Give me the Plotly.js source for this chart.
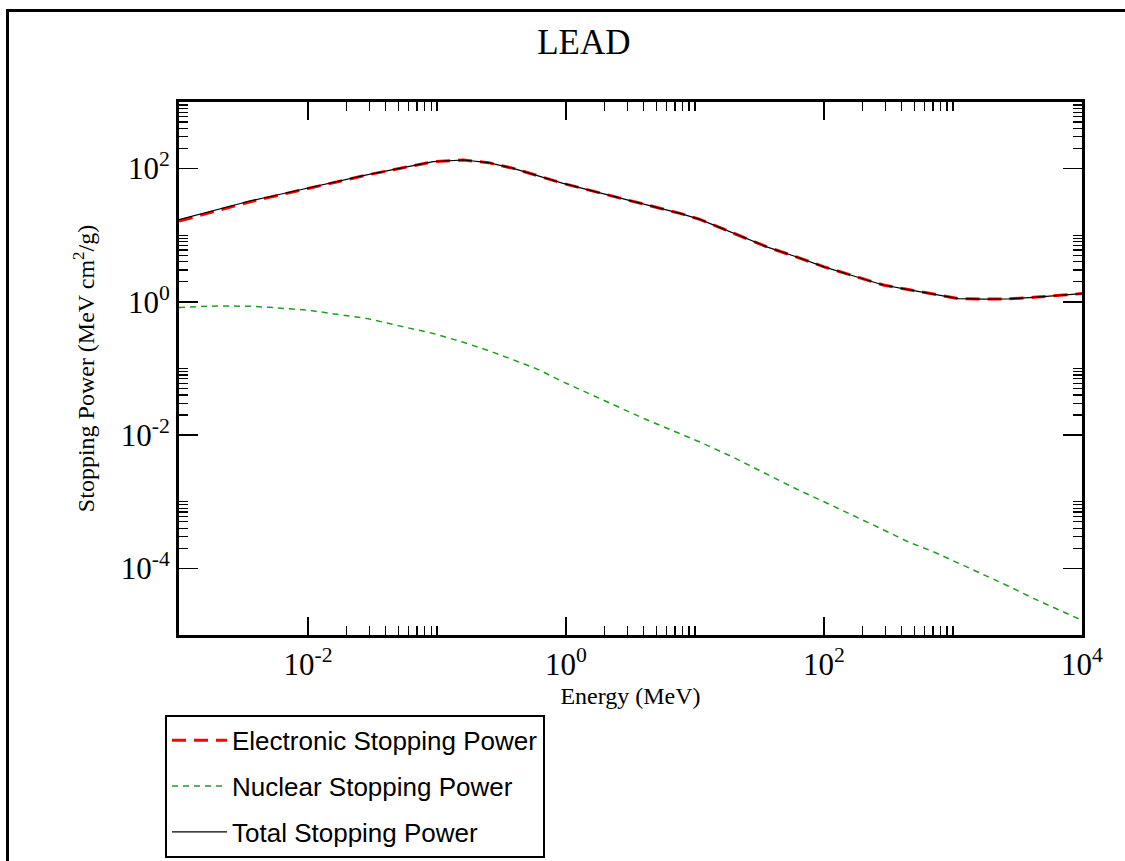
<!DOCTYPE html>
<html>
<head>
<meta charset="utf-8">
<script src="https://cdn.plot.ly/plotly-3.0.1.min.js"></script>
<style>
  html, body { margin: 0; padding: 0; background: #fff; overflow: hidden; }
  #wrap { position: relative; width: 1125px; height: 861px; overflow: hidden; }
  #chart { width: 1125px; height: 861px; }
  #frame { position: absolute; left: 6px; top: 9px; width: 1300px; height: 1100px;
           border-left: 3px solid #000; border-top: 3px solid #000; pointer-events: none; }
</style>
</head>
<body>
<div id="wrap">
  <div id="chart"></div>
  <div id="frame"></div>
</div>
<script>
// Energy grid (MeV)
const energy = [0.001, 0.002, 0.00355, 0.005, 0.01, 0.02, 0.0285, 0.05, 0.0935, 0.16, 0.25, 0.39, 0.6, 0.95,
                2, 4, 7.65, 10.9, 20, 36, 60, 100, 170, 288, 450, 703, 1100, 1720, 2700, 4200, 6500, 10000];
// Electronic stopping power (MeV cm2/g)
const electronic = [16.3, 23.5, 31.8, 37.0, 50.6, 68.5, 80.0, 99.8, 127, 134.6, 123, 101, 78, 60,
                    41.3, 29.5, 21.3, 17.3, 10.7, 6.7, 4.79, 3.36, 2.45, 1.79, 1.53, 1.31, 1.12, 1.10, 1.11, 1.17, 1.24, 1.33];
// Nuclear stopping power (MeV cm2/g)
const nuclear = [0.826, 0.87, 0.86, 0.83, 0.75, 0.62, 0.565, 0.44, 0.336, 0.247, 0.186, 0.135, 0.098, 0.063,
                 0.033, 0.0178, 0.0105, 0.0079, 0.0046, 0.0026, 0.00158, 0.0010, 0.00062, 0.00038, 0.00025, 0.000178,
                 0.00012, 0.000081, 0.000054, 0.0000355, 0.0000245, 0.0000166];
// Total stopping power (MeV cm2/g)
const total = [17.1, 24.4, 32.7, 37.8, 51.4, 69.1, 80.6, 100.2, 127.3, 134.8, 123.2, 101.1, 78.1, 60.06,
               41.33, 29.52, 21.31, 17.31, 10.70, 6.70, 4.79, 3.36, 2.45, 1.79, 1.53, 1.31, 1.12, 1.10, 1.11, 1.17, 1.24, 1.33];

const legendNames = ["Electronic Stopping Power", "Nuclear Stopping Power", "Total Stopping Power"];

// Tick labels
const xMajor = [0.01, 1, 100, 10000];
const xMajorText = ["10<sup>-2</sup>", "10<sup>0</sup>", "10<sup>2</sup>", "10<sup>4</sup>"];
const yMajor = [0.0001, 0.01, 1, 100];
const yMajorText = ["10<sup>-4</sup>", "10<sup>-2</sup>", "10<sup>0</sup>", "10<sup>2</sup>"];
const xMajorAll = [0.0001, 0.01, 1, 100];
const yMajorAll = [0.000001, 0.0001, 0.01, 1, 100];

function minorTicks(majors) {
  const out = [];
  majors.forEach(m => { for (let k = 2; k <= 10; k++) out.push(m * k); });
  return out;
}

const serif = "Liberation Serif, Times New Roman, serif";
const sans = "Liberation Sans, Arial, Helvetica, sans-serif";

const traces = [
  { x: energy, y: electronic, name: legendNames[0], type: "scatter", mode: "lines", legendgroup: "a",
    line: { color: "#ff0000", width: 3, dash: "14px,8px" } },
  { x: energy, y: nuclear, name: legendNames[1], type: "scatter", mode: "lines", legendgroup: "b",
    line: { color: "#1f9f1f", width: 1.5, dash: "6px,5px" } },
  { x: energy, y: total, name: legendNames[2], type: "scatter", mode: "lines", legendgroup: "c",
    line: { color: "#000000", width: 1.2 } }
];

const axisCommon = {
  type: "log",
  showgrid: false,
  zeroline: false,
  showline: true,
  linecolor: "#000",
  linewidth: 3,
  mirror: "allticks",
  ticks: "inside",
  tickcolor: "#000",
  tickwidth: 1.5,
  tickmode: "array",
  tickfont: { family: serif, size: 31, color: "#000" }
};

const layout = {
  width: 1125,
  height: 861,
  paper_bgcolor: "#fff",
  plot_bgcolor: "#fff",
  margin: { l: 179, r: 43, t: 102, b: 226, autoexpand: false },
  showlegend: true,
  title: {
    text: "LEAD",
    font: { family: serif, size: 35, color: "#000" },
    x: 0.519, xref: "container", xanchor: "center",
    y: 0.951, yref: "container", yanchor: "middle"
  },
  xaxis: Object.assign({}, axisCommon, {
    range: [-3, 4],
    tickvals: xMajor,
    ticktext: xMajorText,
    ticklen: 18,
    minor: { tickmode: "array", tickvals: minorTicks(xMajorAll), ticks: "inside", ticklen: 9, tickwidth: 1.2, tickcolor: "#000", showgrid: false },
    title: { text: "Energy (MeV)", font: { family: serif, size: 24, color: "#000" }, standoff: 6 }
  }),
  yaxis: Object.assign({}, axisCommon, {
    range: [-5, 3],
    tickvals: yMajor,
    ticktext: yMajorText,
    ticklen: 19,
    minor: { tickmode: "array", tickvals: minorTicks(yMajorAll), ticks: "inside", ticklen: 9, tickwidth: 1.2, tickcolor: "#000", showgrid: false },
    title: { text: "Stopping Power (MeV cm<sup>2</sup>/g)", font: { family: serif, size: 24, color: "#000" }, standoff: 20 }
  }),
  legend: {
    x: -0.0155, y: -0.1498, xanchor: "left", yanchor: "top",
    xref: "paper", yref: "paper",
    bgcolor: "#fff", bordercolor: "#000", borderwidth: 2,
    font: { family: sans, size: 26, color: "#000" },
    tracegroupgap: 9,
    itemwidth: 55,
    traceorder: "grouped"
  }
};

Plotly.newPlot("chart", traces, layout, { staticPlot: true, displayModeBar: false });
</script>
</body>
</html>
